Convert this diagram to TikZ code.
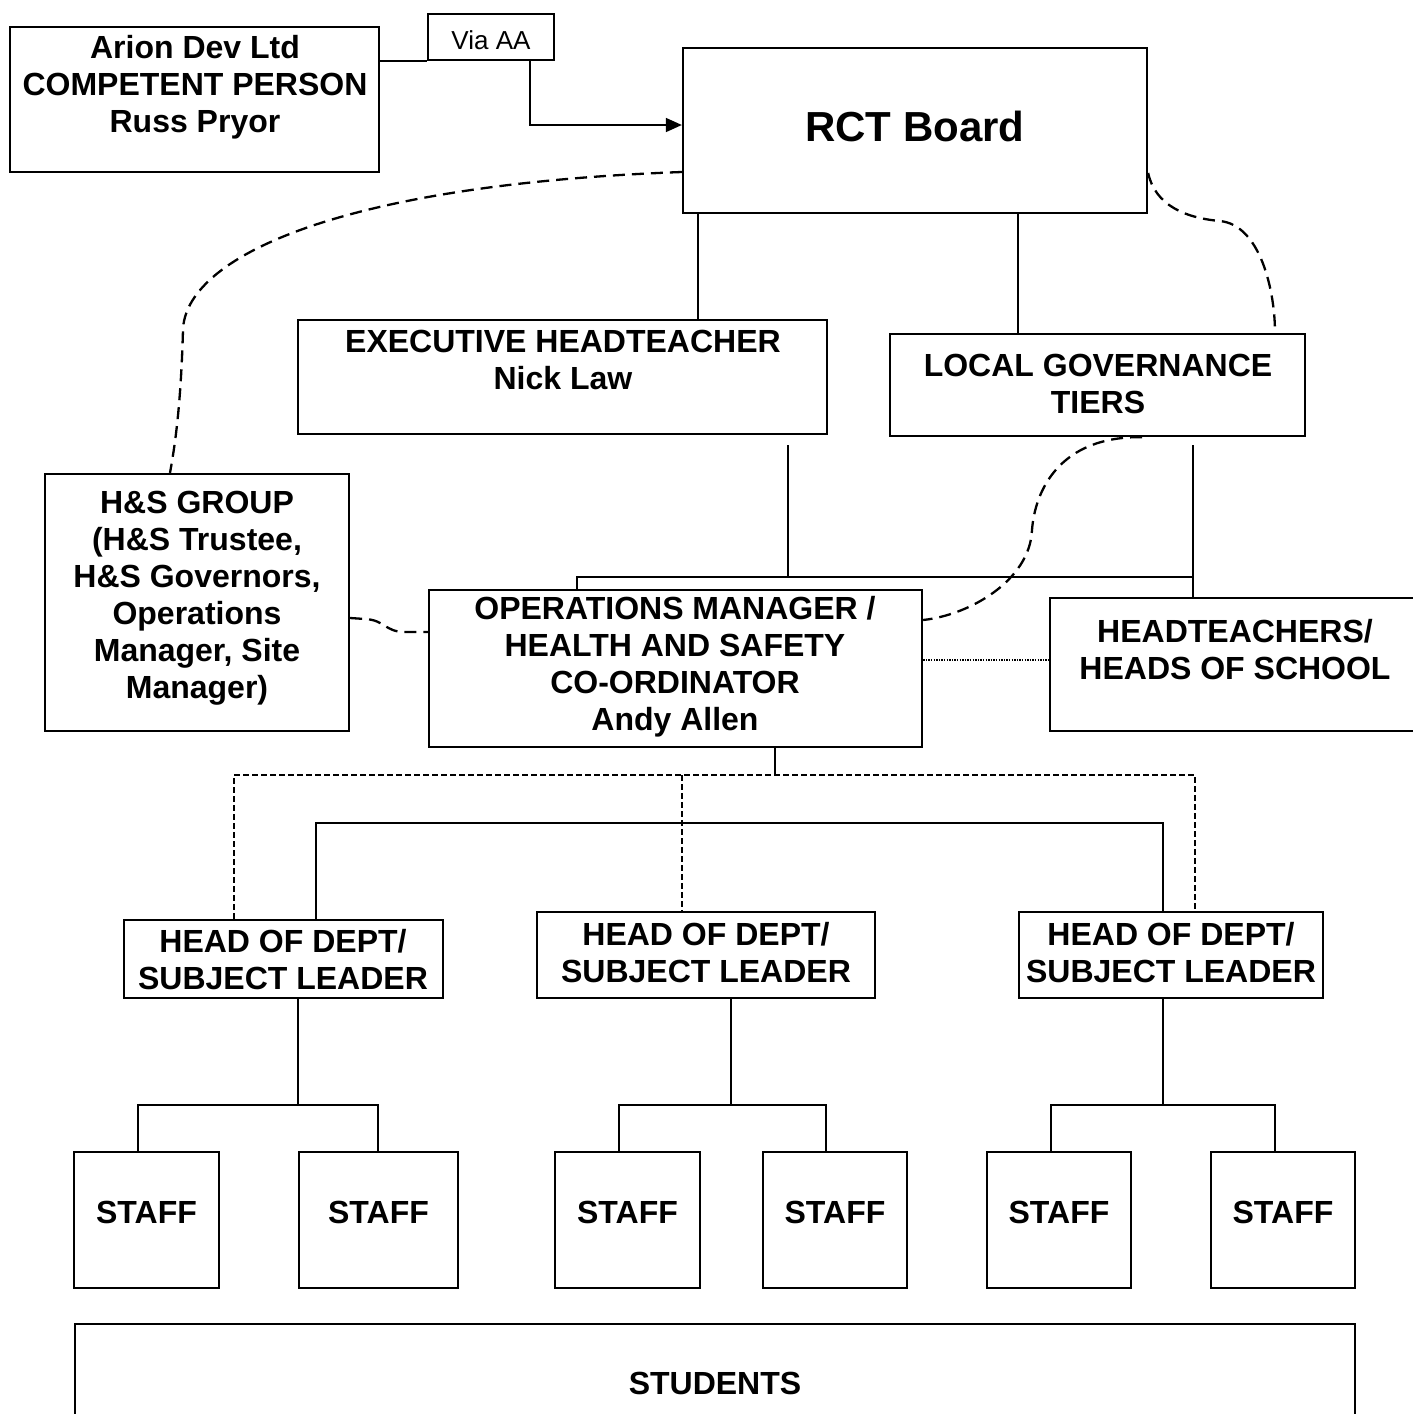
\documentclass[tikz,border=0pt]{standalone}
\usepackage{fontspec}
\setmainfont{Liberation Sans}
\usetikzlibrary{arrows.meta,fit}
\begin{document}
\begin{tikzpicture}[x=0.5pt,y=-0.5pt,
  box/.style={draw, line width=1.15pt, inner sep=0pt},
  txt/.style={font=\fontsize{16}{18.5}\selectfont\bfseries, align=center, inner sep=0pt},
  conn/.style={line width=0.8pt},
  dconn/.style={line width=1.15pt, dash pattern=on 6pt off 3.5pt},
  fdash/.style={line width=0.8pt, dash pattern=on 3pt off 1.5pt},
  dotline/.style={line width=0.7pt, dash pattern=on 0.7pt off 0.6pt},
]
\useasboundingbox (0,0) rectangle (1413,1414);

% boxes
\node[box, fit={(10,27) (379,172)}] (arion) {};
\node[txt] (ariontxt) at (195,87) {Arion Dev Ltd\\COMPETENT PERSON\\Russ Pryor};
\node[box, fit={(428,14) (554,60)}] (via) {};
\node[font=\fontsize{13}{15}\selectfont, inner sep=0pt] (viatxt) at (491,40) {Via AA};
\node[box, fit={(683,48) (1147,213)}] (rct) {};
\node[font=\fontsize{21}{25}\selectfont\bfseries, inner sep=0pt] (rcttxt) at (915,126) {RCT Board};
\node[box, fit={(298,320) (827,434)}] (exec) {};
\node[txt] (exectxt) at (563,360) {EXECUTIVE HEADTEACHER\\Nick Law};
\node[box, fit={(890,334) (1305,436)}] (lgt) {};
\node[txt] (lgttxt) at (1098,384) {LOCAL GOVERNANCE\\TIERS};
\node[box, fit={(45,474) (349,731)}] (hs) {};
\node[txt] (hstxt) at (197,598) {H\&S GROUP\\(H\&S Trustee,\\H\&S Governors,\\Operations\\Manager, Site\\Manager)};
\node[box, fit={(429,590) (922,747)}] (ops) {};
\node[txt] (opstxt) at (675,667) {OPERATIONS MANAGER /\\HEALTH AND SAFETY\\CO-ORDINATOR\\Andy Allen};
\node[box, fit={(1050,598) (1430,731)}] (ht) {};
\node[txt] (httxt) at (1235,650) {HEADTEACHERS/\\HEADS OF SCHOOL};
\node[box, fit={(124,920) (443,998)}] (hod1) {};
\node[txt] (hod1txt) at (283,960) {HEAD OF DEPT/\\SUBJECT LEADER};
\node[box, fit={(537,912) (875,998)}] (hod2) {};
\node[txt] (hod2txt) at (706,953) {HEAD OF DEPT/\\SUBJECT LEADER};
\node[box, fit={(1019,912) (1323,998)}] (hod3) {};
\node[txt] (hod3txt) at (1171,953) {HEAD OF DEPT/\\SUBJECT LEADER};
\foreach \n/\a/\b in {s1/74/219, s2/299/458, s3/555/700, s4/763/907, s5/987/1131, s6/1211/1355}{
  \node[box, fit={(\a,1152) (\b,1288)}] (\n) {};
  \node[txt] (\n txt) at ({(\a+\b)/2},1212) {STAFF};
}
\node[box, fit={(75,1324) (1355,1440)}] (stu) {};
\node[txt] (stutxt) at (715,1383) {STUDENTS};

% top connectors
\draw[conn] (arion.east |- via.south) -- (via.south west);
\draw[conn, -{Triangle[length=8pt,width=7pt]}] (via.south -| 530,0) |- (rct.west |- 0,125);
\draw[conn] (rct.south -| 698,0) -- (exec.north -| 698,0);
\draw[conn] (rct.south -| 1018,0) -- (lgt.north -| 1018,0);

% dashed curves
\draw[dconn] (rct.west |- 0,172) .. controls (330,185) and (185,260) .. (183,330)
  .. controls (181,400) and (176,440) .. (hs.north -| 170,0);
\draw[dconn] (rct.east |- 0,173) .. controls (1155,205) and (1185,218) .. (1220,221)
  .. controls (1260,225) and (1275,290) .. (lgt.north -| 1275,0);
\draw[dconn] (lgt.south -| 1142,0) .. controls (1060,436) and (1035,490) .. (1032,530)
  .. controls (1030,580) and (970,615) .. (ops.east |- 0,620);
\draw[dconn] (hs.east |- 0,618) -- (365,619) .. controls (385,620) and (385,632) .. (405,632) -- (ops.west |- 0,632);

% middle solid connectors
\coordinate (exgap) at (788,445);
\coordinate (lgap) at (1193,445);
\coordinate (j1) at (577,577);
\coordinate (j2) at (1193,577);
\draw[conn] (exgap) -- (exgap |- j1);
\draw[conn] (ops.north -| j1) -- (j1) -- (j2);
\draw[conn] (lgap) -- (ht.north -| lgap);
\draw[dotline] (ops.east |- 0,660) -- (ht.west |- 0,660);

% ops to heads of dept
\coordinate (opsb) at (775,775);
\draw[conn] (ops.south -| opsb) -- (opsb);
\draw[fdash] (hod1.north -| 234,0) -- (234,775) -- (1195,775) -- (hod3.north -| 1195,0);
\draw[fdash] (682,775) -- (hod2.north -| 682,0);
\draw[conn] (hod1.north -| 316,0) |- (1163,823) -- (hod3.north -| 1163,0);

% heads of dept to staff
\draw[conn] (hod1.south -| 298,0) -- (298,1105);
\draw[conn] (s1.north -| 138,0) |- (378,1105) -- (s2.north -| 378,0);
\draw[conn] (hod2.south -| 731,0) -- (731,1105);
\draw[conn] (s3.north -| 619,0) |- (826,1105) -- (s4.north -| 826,0);
\draw[conn] (hod3.south -| 1163,0) -- (1163,1105);
\draw[conn] (s5.north -| 1051,0) |- (1275,1105) -- (s6.north -| 1275,0);
\end{tikzpicture}
\end{document}
